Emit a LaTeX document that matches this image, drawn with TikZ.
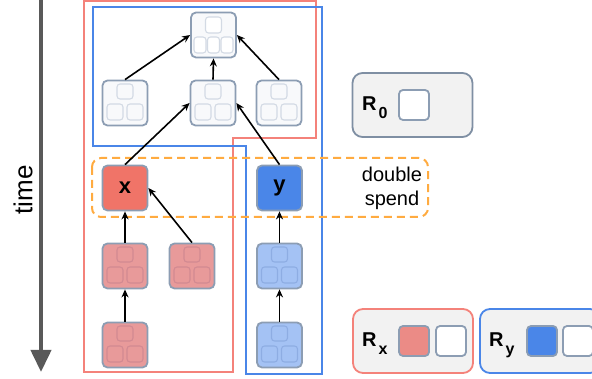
\documentclass[tikz,border=0pt]{standalone}
\usepackage{fontspec}
\setmainfont{Liberation Sans}
\usetikzlibrary{arrows.meta}
\definecolor{blkline}{HTML}{8C9DB3}
\definecolor{blkfill}{HTML}{F8F9FB}
\definecolor{cellline}{HTML}{D3DAE4}
\definecolor{redfill}{HTML}{E89A9A}
\definecolor{redcell}{HTML}{D28A92}
\definecolor{bluefill}{HTML}{A4C2F4}
\definecolor{bluecell}{HTML}{8EADE3}
\definecolor{xfill}{HTML}{F07468}
\definecolor{yfill}{HTML}{4A86E8}
\definecolor{redline}{HTML}{F4827A}
\definecolor{blueline}{HTML}{4A86E8}
\definecolor{spendline}{HTML}{FFAB40}
\definecolor{timeline}{HTML}{595959}
\definecolor{legfill}{HTML}{F2F2F2}
\definecolor{leggray}{HTML}{7F8FA3}
\newcommand{\rlabel}[1]{\fontsize{20}{20}\selectfont\bfseries R\kern2pt\raisebox{-8pt}{\fontsize{16}{16}\selectfont #1}}
\begin{document}
\begin{tikzpicture}[x=1pt,y=-1pt,
    blk/.style={draw=blkline,line width=1.8pt,rounded corners=5pt,
      minimum width=45pt,minimum height=45pt,inner sep=0pt,fill=#1},
    blk/.default=blkfill,
    cell/.style={draw=#1,line width=1.1pt,rounded corners=3pt},
    edge/.style={line width=1.6pt,-{Stealth[length=8pt,width=7pt]}},
    legbox/.style={draw=#1,fill=legfill,line width=1.8pt,rounded corners=10pt,
      minimum width=120pt,minimum height=64pt},
    legsq/.style={draw=blkline,fill=#1,line width=1.8pt,rounded corners=4pt,
      minimum size=30pt,inner sep=0pt}]
  \useasboundingbox (0,0) rectangle (592,379);
  \clip (0,0) rectangle (592,379);

  \draw[timeline,line width=4pt,-{Triangle[width=20pt,length=22pt]}]
    (41,0) coordinate (tstart) -- (41,372) coordinate (tend);
  \node[rotate=90,font=\fontsize{26}{30}\selectfont] (time) at (23,190) {time};

  \draw[redline,line width=2pt]
    (84,1) -- (316,1) -- (316,138) -- (233,138) -- (233,372) -- (84,372) -- cycle;
  \draw[blueline,line width=2pt]
    (93,7) -- (322,7) -- (322,374) -- (246,374) -- (246,146) -- (93,146) -- cycle;
  \draw[spendline,line width=2pt,dash pattern=on 8pt off 5pt,rounded corners=9pt]
    (92,158) rectangle (428,217);
  \node[align=center,font=\fontsize{20}{24}\selectfont] (spend) at (392,188) {double\\spend};

  \draw
    (213.5,35) node[blk] (t){}
    (125,103) node[blk] (m1){}
    (213,103) node[blk] (m2){}
    (279,103) node[blk] (m3){}
    (125,188) node[blk=xfill,font=\fontsize{22}{22}\selectfont\bfseries] (x){x}
    (279.5,188) node[blk=yfill,font=\fontsize{22}{22}\selectfont\bfseries] (y){y}
    (125,266) node[blk=redfill] (r2a){}
    (192,266) node[blk=redfill] (r2b){}
    (125,345) node[blk=redfill] (r3a){}
    (279.5,266) node[blk=bluefill] (b2){}
    (279.5,345) node[blk=bluefill] (b3){};

  \draw[cell=cellline,fill=white] ([shift={(-8,-18)}]t.center) rectangle +(16,16);
  \foreach \dx in {-19.5,-6,7.5}
    \draw[cell=cellline,fill=white] ([shift={(\dx,2)}]t.center) rectangle +(12,16);
  \foreach \n/\c in {m1/cellline,m2/cellline,m3/cellline,r2a/redcell,r2b/redcell,
      r3a/redcell,b2/bluecell,b3/bluecell} {
    \draw[cell=\c] ([shift={(-8,-19)}]\n.center) rectangle +(16,15);
    \draw[cell=\c] ([shift={(-18,1)}]\n.center) rectangle +(16,16);
    \draw[cell=\c] ([shift={(2,1)}]\n.center) rectangle +(16,16);
  }

  \begin{scope}[edge]
    \draw (m1.north) to (t.west);
    \draw (m2.north) to (t.south);
    \draw (m3.north) to (t.east);
    \draw (x.north) to (m2.west);
    \draw (y.north) to (m2.east);
    \draw (r2a.north) to (x.south);
    \draw (r2b.north) to (x.east);
    \draw (r3a.north) to (r2a.south);
    \draw (b2.north) to (y.south);
    \draw (b3.north) to (b2.south);
  \end{scope}

  \node[legbox=leggray] (r0box) at (412.5,105) {};
  \node[anchor=base west,inner sep=0pt] (r0) at (362,111) {\rlabel{0}};
  \node[legsq=white] (r0sq) at (414,105) {};

  \node[legbox=redline] (rxbox) at (413,341) {};
  \node[anchor=base west,inner sep=0pt] (rx) at (362,347) {\rlabel{x}};
  \node[legsq=redfill!60!xfill] (rxred) at (414,341) {};
  \node[legsq=white] (rxsq) at (451,341) {};

  \node[legbox=blueline] (rybox) at (540,341) {};
  \node[anchor=base west,inner sep=0pt] (ry) at (489,347) {\rlabel{y}};
  \node[legsq=yfill] (ryblue) at (542,341) {};
  \node[legsq=white] (rysq) at (578,341) {};
\end{tikzpicture}
\end{document}
